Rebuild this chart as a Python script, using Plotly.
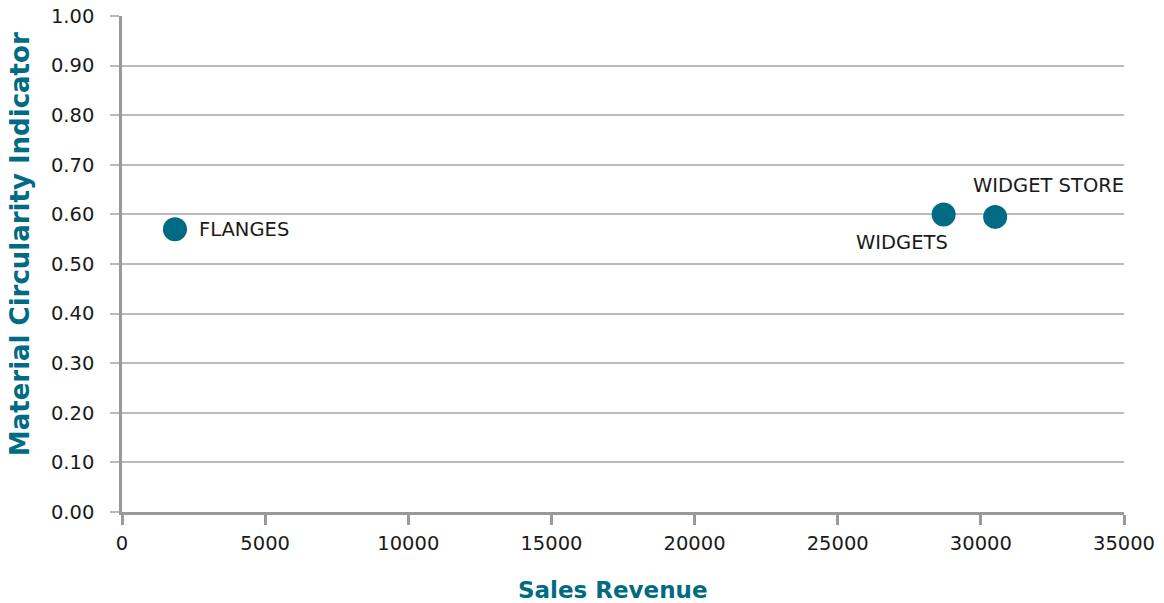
import plotly.graph_objects as go

names = ["FLANGES", "WIDGETS", "WIDGET STORE"]
sales_revenue = [1850, 28700, 30500]
mci = [0.57, 0.60, 0.595]
x_ticks = [0, 5000, 10000, 15000, 20000, 25000, 30000, 35000]
x_title = "Sales Revenue"
y_title = "Material Circularity Indicator"

teal = "#006b82"
font_family = "'DejaVu Sans', sans-serif"

fig = go.Figure()
fig.add_trace(go.Scatter(
    x=sales_revenue, y=mci, mode="markers",
    marker=dict(size=24, color=teal, line=dict(width=0)),
    showlegend=False, cliponaxis=False,
))

label_pos = {
    "FLANGES": dict(xanchor="left", yanchor="middle", xshift=22, yshift=0),
    "WIDGETS": dict(xanchor="right", yanchor="middle", xshift=6, yshift=-28),
    "WIDGET STORE": dict(xanchor="left", yanchor="middle", xshift=-24, yshift=31),
}
for n, xv, yv in zip(names, sales_revenue, mci):
    fig.add_annotation(x=xv, y=yv, text=n, showarrow=False,
                       font=dict(size=19.5, color="#1a1a1a", family=font_family),
                       **label_pos[n])

# axis titles
fig.add_annotation(xref="paper", yref="paper", x=0.49, y=0, yshift=-78,
                   xanchor="center", yanchor="middle", showarrow=False,
                   text="<b>" + x_title + "</b>",
                   font=dict(size=23, color=teal, family=font_family))
fig.add_annotation(xref="paper", yref="paper", x=0, y=0.54, xshift=-102,
                   xanchor="center", yanchor="middle", showarrow=False, textangle=-90,
                   text="<b>" + y_title + "</b>",
                   font=dict(size=26, color=teal, family=font_family))

fig.update_layout(
    width=1164, height=603,
    margin=dict(l=122, r=40, t=16, b=91),
    plot_bgcolor="white", paper_bgcolor="white",
    font=dict(family=font_family, size=19.5, color="#1a1a1a"),
    xaxis=dict(
        range=[0, 35000], tickvals=x_ticks,
        ticktext=[str(v) for v in x_ticks],
        showgrid=False, zeroline=False, automargin=False,
        showline=True, linecolor="#999999", linewidth=2.5,
        ticks="outside", ticklen=10, tickwidth=2.5, tickcolor="#999999",
        ticklabelstandoff=2,
        tickfont=dict(size=19.5),
    ),
    yaxis=dict(
        range=[0, 1.0], dtick=0.1, tickformat=".2f",
        showgrid=True, gridcolor="#bbbbbb", gridwidth=2, zeroline=False, automargin=False,
        showline=True, linecolor="#999999", linewidth=2.5,
        ticks="outside", ticklen=9, tickwidth=2, tickcolor="#bbbbbb",
        ticklabelstandoff=12,
        tickfont=dict(size=19.5),
    ),
)

fig.write_html("out.html")
